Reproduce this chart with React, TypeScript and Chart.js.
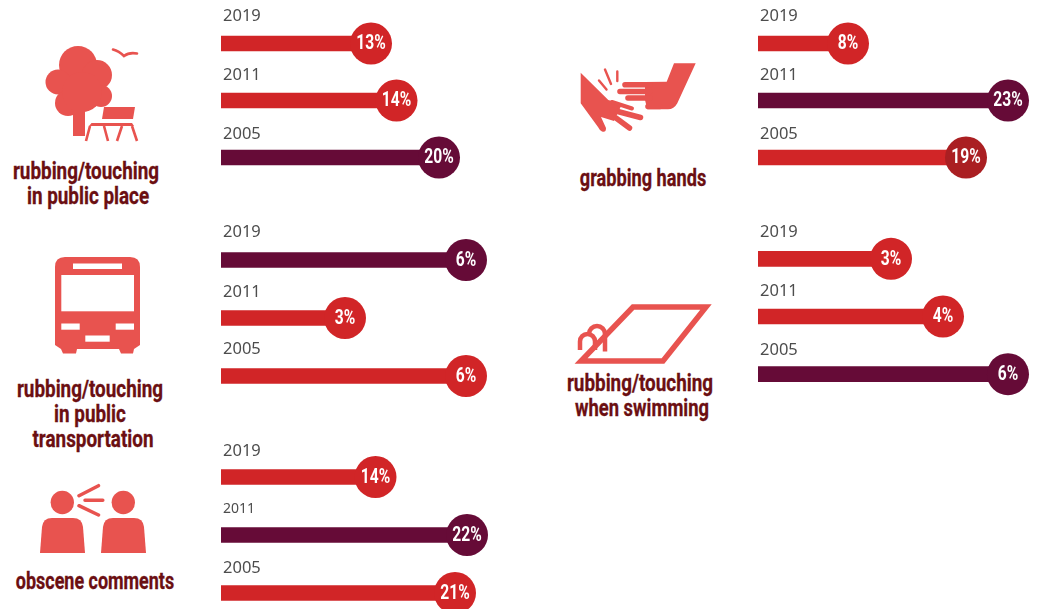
import React, { useEffect, useRef } from "react";
import { Chart, registerables } from "chart.js";

Chart.register(...registerables);

// Years, printed labels and bar lengths.
// The reference does not draw its bars in proportion to the printed percentages,
// so the drawn length is kept apart from the label (% of the 250px bar track).
const years = ["2019", "2011", "2005"];

const labelsPublicPlace = ["13%", "14%", "20%"];
const labelsTransport = ["6%", "3%", "6%"];
const labelsComments = ["14%", "22%", "21%"];
const labelsGrabbing = ["8%", "23%", "19%"];
const labelsSwimming = ["3%", "4%", "6%"];

const lengthsPublicPlace = [60, 70.2, 87.2];
const lengthsTransport = [98, 49.6, 98];
const lengthsComments = [61.8, 98.4, 93.6];
const lengthsGrabbing = [36, 100, 83.2];
const lengthsSwimming = [53.2, 74, 100];

const RED = "#d12527";
const PLUM = "#660b37";
const BRICK = "#aa1f22";
const ICON = "#e8534f";
const CAPTION = "#6b0f12";
const YEAR = "#4d4d4d";

const PAD = 30;
const AXIS_MAX = 112;
const CANVAS_W = 280;
const SQUEEZE = 0.82;

const NARROW = '"Roboto", sans-serif';

function fixedPanel(
  left: number,
  firstRow: number,
  row: number,
  labels: string[],
  lengths: number[],
  bars: string[],
  dots: string[],
  lifts: number[],
  yearSizes: number[] = [16.5, 16.5, 16.5],
) {
  return { left, firstRow, row, labels, lengths, bars, dots, lifts, yearSizes };
}

const panels = [
  fixedPanel(221, 43.3, 57.1, labelsPublicPlace, lengthsPublicPlace, [RED, RED, PLUM], [RED, RED, PLUM], [23, 20.5, 19]),
  fixedPanel(221, 259.5, 58, labelsTransport, lengthsTransport, [PLUM, RED, RED], [PLUM, RED, RED], [23, 21.5, 22]),
  fixedPanel(221, 476.5, 58, labelsComments, lengthsComments, [RED, PLUM, RED], [RED, PLUM, RED], [21, 22, 20.5], [16.5, 14, 16.5]),
  fixedPanel(758, 43.3, 57.1, labelsGrabbing, lengthsGrabbing, [RED, PLUM, RED], [RED, PLUM, BRICK], [23, 20.5, 19]),
  fixedPanel(758, 258.5, 57.5, labelsSwimming, lengthsSwimming, [RED, RED, PLUM], [RED, RED, PLUM], [22, 20.5, 19]),
];

function Panel({ p }: { p: (typeof panels)[number] }) {
  const ref = useRef<HTMLCanvasElement>(null);
  const height = Math.round(p.row * 3 + PAD * 2);
  useEffect(() => {
    const textPlugin = {
      id: "panelText",
      afterDatasetsDraw(chart: any) {
        const { ctx, scales, chartArea } = chart;
        const meta = chart.getDatasetMeta(0);
        ctx.save();
        years.forEach((year, i) => {
          ctx.font = `${p.yearSizes[i]}px "Noto Sans", sans-serif`;
          ctx.fillStyle = YEAR;
          ctx.textAlign = "left";
          ctx.textBaseline = "alphabetic";
          ctx.fillText(year, chartArea.left + 2, scales.y.getPixelForValue(i) - p.lifts[i]);
          const pt = meta.data[i];
          ctx.save();
          ctx.translate(pt.x, pt.y + 1);
          ctx.scale(0.8, 1);
          ctx.font = `bold 19.5px ${NARROW}`;
          ctx.fillStyle = "#ffffff";
          ctx.textAlign = "center";
          ctx.textBaseline = "middle";
          ctx.fillText(p.labels[i], 0, 0);
          ctx.restore();
        });
        ctx.restore();
      },
    };
    const chart = new Chart(ref.current as HTMLCanvasElement, {
      type: "bar",
      data: {
        labels: years,
        datasets: [
          {
            type: "bubble",
            order: 0,
            data: years.map((y, i) => ({ x: p.lengths[i], y })),
            backgroundColor: p.dots,
            borderWidth: 0,
            radius: 21,
            clip: false,
            xAxisID: "x",
            yAxisID: "y",
          },
          {
            type: "bar",
            order: 1,
            indexAxis: "y",
            data: p.lengths,
            backgroundColor: p.bars,
            barThickness: 15,
            xAxisID: "x",
            yAxisID: "y",
          },
        ],
      } as any,
      options: {
        animation: false,
        responsive: false,
        events: [],
        layout: { autoPadding: false, padding: { top: PAD, bottom: PAD, left: 0, right: 0 } },
        plugins: { legend: { display: false }, tooltip: { enabled: false } },
        scales: {
          x: { type: "linear", min: 0, max: AXIS_MAX, offset: false, display: false },
          y: { type: "category", labels: years, offset: true, display: false },
        },
      } as any,
      plugins: [textPlugin],
    });
    return () => chart.destroy();
  }, [p]);
  return (
    <canvas
      ref={ref}
      width={CANVAS_W}
      height={height}
      style={{
        position: "absolute",
        left: p.left,
        top: p.firstRow - p.row / 2 - PAD,
        width: CANVAS_W,
        height,
      }}
    />
  );
}

function Caption({ cx, base, text, squeeze = SQUEEZE }: { cx: number; base: number; text: string; squeeze?: number }) {
  return (
    <div
      style={{
        position: "absolute",
        left: cx - 150,
        top: base - 21,
        width: 300,
        height: 27,
        lineHeight: "27px",
        textAlign: "center",
        fontFamily: NARROW,
        fontWeight: 700,
        fontSize: 23,
        color: CAPTION,
        whiteSpace: "nowrap",
        transform: `scaleX(${squeeze})`,
        WebkitTextStroke: `0.3px ${CAPTION}`,
      }}
    >
      {text}
    </div>
  );
}

function Icons() {
  return (
    <svg width={1038} height={609} style={{ position: "absolute", left: 0, top: 0 }}>
      <g fill={ICON} stroke="none">
        {/* tree and bench */}
        <circle cx={78} cy={65} r={19} />
        <circle cx={58} cy={82} r={12.5} />
        <circle cx={97} cy={75} r={15} />
        <circle cx={101} cy={96} r={11} />
        <circle cx={68} cy={103} r={13} />
        <circle cx={82} cy={92} r={20} />
        <rect x={73} y={105} width={12} height={31} />
        <path d="M86,113 L101,108 L104,122 L86,128 Z" fill="#fff" />
        <path d="M104,107 L135,107 L133,119 L102,119 Z" />
        <path d="M91.500,123 L132,123 L134,126 L89,126 Z" />
        <g fill="none" stroke={ICON} strokeWidth={2.6}>
          <path d="M90,126 L86,141 M104,126 L108,141 M122,126 L117,141 M132,126 L137,141" />
          <path d="M113,49.500 Q119,51 124,56 Q129,52 137,53.500" strokeLinecap="round" />
        </g>
        {/* bus */}
        <path d="M65,257 H130 Q140,257 140,267 V345 L134,349 L133,353.500 H121 L119,349 H77 L76,353.500 H63 L61,349 L55,345 V267 Q55,257 65,257 Z" />
        <g fill="#fff">
          <rect x={73} y={263.500} width={49} height={5.500} />
          <rect x={61.300} y={275} width={72.700} height={36.300} />
          <rect x={61.300} y={323.500} width={18.400} height={6.200} />
          <rect x={115.700} y={323.500} width={18.300} height={6.200} />
          <rect x={85.300} y={335.500} width={24.400} height={6.200} />
        </g>
        {/* speakers */}
        <circle cx={62.300} cy={502.500} r={11.700} />
        <circle cx={123.300} cy={502.500} r={11.700} />
        <path d="M40,553 L42,527 Q43,518 52,518 H73 Q82,518 83,527 L85,553 Z" />
        <path d="M101,553 L103,527 Q104,518 113,518 H134 Q143,518 144,527 L146,553 Z" />
        <g fill="none" stroke={ICON} strokeWidth={3.500} strokeLinecap="round">
          <path d="M79,495.700 L98.500,485.700 M85,500.300 L102.800,500.300 M79,505.700 L98.500,515" />
        </g>
        {/* hands */}
        <path d="M666.700,81.700 L674,63.300 H695.700 L677.300,103.300 Q674,109.300 668,109.300 H647.300 L645,100 L645,82 Z" />
        <g fill="none" stroke={ICON} strokeWidth={5.600} strokeLinecap="round">
          <path d="M625,84.800 H650 M620,91.500 H650 M628,98 H650 M648,106.500 H660" />
        </g>
        <path d="M580.700,72.700 L608.300,100 L622,104 L614,121 L601,117 L606,128 Q606,133 602,131.500 Q600,131 598,127 L580.700,103.300 Z" />
        <g fill="none" stroke={ICON} strokeLinecap="round">
          <path strokeWidth={4} d="M612,102 L632,108.500" />
          <path strokeWidth={5.500} d="M612,110 L640.500,117.500 M616,118 L629.500,128" />
          <path strokeWidth={2.400} d="M605,69.500 L611,84 M617.300,71.500 V81 M599,80.500 L606.500,89.500" />
        </g>
        {/* pool */}
        <path d="M633,307 H706 L663,361 H581 Z" fill="none" stroke={ICON} strokeWidth={5.500} />
        <g fill="none" stroke={ICON} strokeWidth={4.500}>
          <path d="M580,350 V341.500 A7.500,7.500 0 0 1 595,341.500 V350" />
          <path d="M589,334 A8,8 0 0 1 605,334 V351.500" />
        </g>
      </g>
    </svg>
  );
}

export default function App() {
  return (
    <div style={{ position: "absolute", left: 0, top: 0, width: 1038, height: 609, overflow: "hidden", background: "#fff" }}>
      <Icons />
      <Caption cx={85.5} base={179} text="rubbing/touching" />
      <Caption cx={88} base={204} text="in public place" />
      <Caption cx={90} base={397} text="rubbing/touching" />
      <Caption cx={90} base={422} text="in public" />
      <Caption cx={92.500} base={446.500} text="transportation" />
      <Caption cx={94.500} base={589} text="obscene comments" squeeze={0.78} />
      <Caption cx={642.500} base={186} text="grabbing hands" squeeze={0.79} />
      <Caption cx={640} base={390.500} text="rubbing/touching" />
      <Caption cx={642} base={415.500} text="when swimming" squeeze={0.8} />
      {panels.map((p, i) => (
        <Panel key={i} p={p} />
      ))}
    </div>
  );
}
